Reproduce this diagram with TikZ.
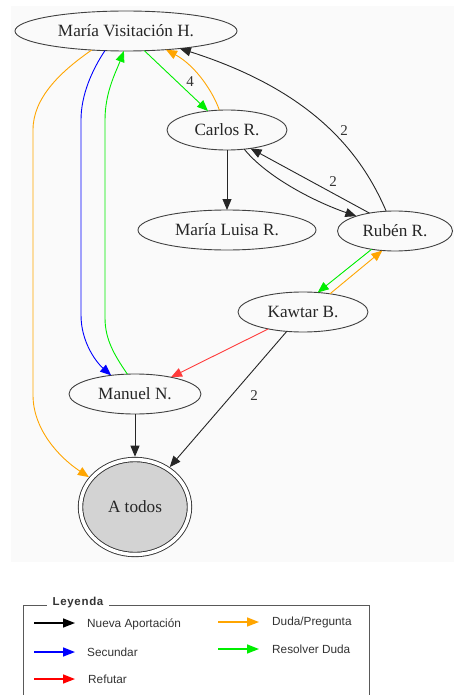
\documentclass[tikz,border=0pt]{standalone}
\usepackage{fontspec}
\setmainfont{Liberation Serif}
\setsansfont{Liberation Sans}
\usetikzlibrary{arrows.meta,shapes.geometric}
\definecolor{bgc}{HTML}{FAFAFA}
\definecolor{orng}{HTML}{FFA500}
\definecolor{grn}{HTML}{00EE00}
\definecolor{blu}{HTML}{0000FF}
\definecolor{rd}{HTML}{FF3B3B}
\definecolor{nodefill}{HTML}{D3D3D3}
\definecolor{legtext}{HTML}{333333}
\tikzset{
  person/.style={ellipse, draw=black!75, line width=0.9pt, inner sep=0pt, outer sep=0pt,
    minimum height=40pt, font=\fontsize{17.2}{19}\selectfont, text=black!85},
  edge/.style={line width=0.9pt, -{Triangle[length=11pt,width=9pt]}},
  lbl/.style={font=\fontsize{15}{16}\selectfont, text=black!80},
  legarrow/.style={line width=1.5pt, -{Triangle[length=12pt,width=9pt]}},
  legtxt/.style={anchor=west, font=\sffamily\fontsize{11.8}{13}\selectfont, text=legtext, inner sep=0pt}
}
\begin{document}
\begin{tikzpicture}[x=1pt,y=-1pt]
\useasboundingbox (0,0) rectangle (454,695);
\fill[white] (0,0) rectangle (454,695);
\fill[bgc] (11,6) rectangle (454,562);

% nodes
\node[person, minimum width=222pt] (mvh) at (126,31) {María Visitación H.};
\node[person, minimum width=120pt] (carlos) at (227,130) {Carlos R.};
\node[person, minimum width=178pt] (mluisa) at (227,230) {María Luisa R.};
\node[person, minimum width=115pt] (ruben) at (395,231) {Rubén R.};
\node[person, minimum width=130pt] (kawtar) at (303,312) {Kawtar B.};
\node[person, minimum width=132pt] (manuel) at (135,394) {Manuel N.};
\node[ellipse, draw=black!80, line width=0.9pt, double=white, double distance=3.5pt,
  fill=nodefill, minimum width=109pt, minimum height=95pt, inner sep=0pt, outer sep=2.8pt,
  font=\fontsize{17.2}{19}\selectfont, text=black!85] (atodos) at (135,507) {A todos};

% edges
\draw[edge, orng] (mvh.209) .. controls (60,72) and (33,98) .. (33,130) -- (33,395)
  .. controls (33,430) and (60,458) .. (atodos.147.4);
\draw[edge, blu] (mvh.223.5) .. controls (92,70) and (81,95) .. (81,120) -- (81,315)
  .. controls (81,342) and (96,362) .. (manuel.142.8);
\draw[edge, grn] (manuel.111.8) .. controls (115,356) and (105,340) .. (105,318) -- (105,120)
  .. controls (105,92) and (116,72) .. (mvh.264);
\draw[edge, grn] (mvh.313.5) -- (carlos.135);
\node[lbl] (l4) at (190,82) {4};
\draw[edge, orng] (carlos.111.8) .. controls (213,92) and (196,66) .. (mvh.335);
\draw[edge, black!85] (ruben.114) .. controls (360,150) and (310,90) .. (mvh.342.5);
\node[lbl] (l2a) at (344,131) {2};
\draw[edge, black!85] (carlos.312) .. controls (265,175) and (310,200) .. (ruben.159.4);
\draw[edge, black!85] (ruben.145) -- (carlos.322);
\node[lbl] (l2b) at (333,182) {2};
\draw[edge, black!85] (carlos) -- (mluisa);
\draw[edge, grn] (ruben.218) -- (kawtar.53);
\draw[edge, orng] (kawtar.34) -- (ruben.237);
\draw[edge, rd] (kawtar.206.6) -- (manuel.25.9);
\draw[edge, black!85] (kawtar.230) -- (atodos.49.5);
\node[lbl] (l2c) at (254,396) {2};
\draw[edge, black!85] (manuel) -- (atodos);

% legend
\draw[black!65, line width=1pt] (23,695) -- (23,605) -- (369,605) -- (369,695);
\node[fill=white, inner xsep=6pt, inner ysep=2pt, font=\sffamily\bfseries\fontsize{11.5}{12}\selectfont\addfontfeatures{LetterSpace=6}, text=legtext] (legtitle) at (78,603) {Leyenda};
\coordinate (a1s) at (34,623); \coordinate (a1e) at (75,623);
\coordinate (a2s) at (34,652); \coordinate (a2e) at (75,652);
\coordinate (a3s) at (34,679); \coordinate (a3e) at (75,679);
\coordinate (a4s) at (218,622); \coordinate (a4e) at (259,622);
\coordinate (a5s) at (218,649); \coordinate (a5e) at (259,649);
\draw[legarrow, black] (a1s) -- (a1e);
\draw[legarrow, blu] (a2s) -- (a2e);
\draw[legarrow, red] (a3s) -- (a3e);
\draw[legarrow, orng] (a4s) -- (a4e);
\draw[legarrow, grn] (a5s) -- (a5e);
\node[legtxt] (t1) at (87,624) {Nueva Aportación};
\node[legtxt] (t2) at (87,652) {Secundar};
\node[legtxt] (t3) at (88,679) {Refutar};
\node[legtxt] (t4) at (272,622) {Duda/Pregunta};
\node[legtxt] (t5) at (272,649) {Resolver Duda};
\end{tikzpicture}
\end{document}
